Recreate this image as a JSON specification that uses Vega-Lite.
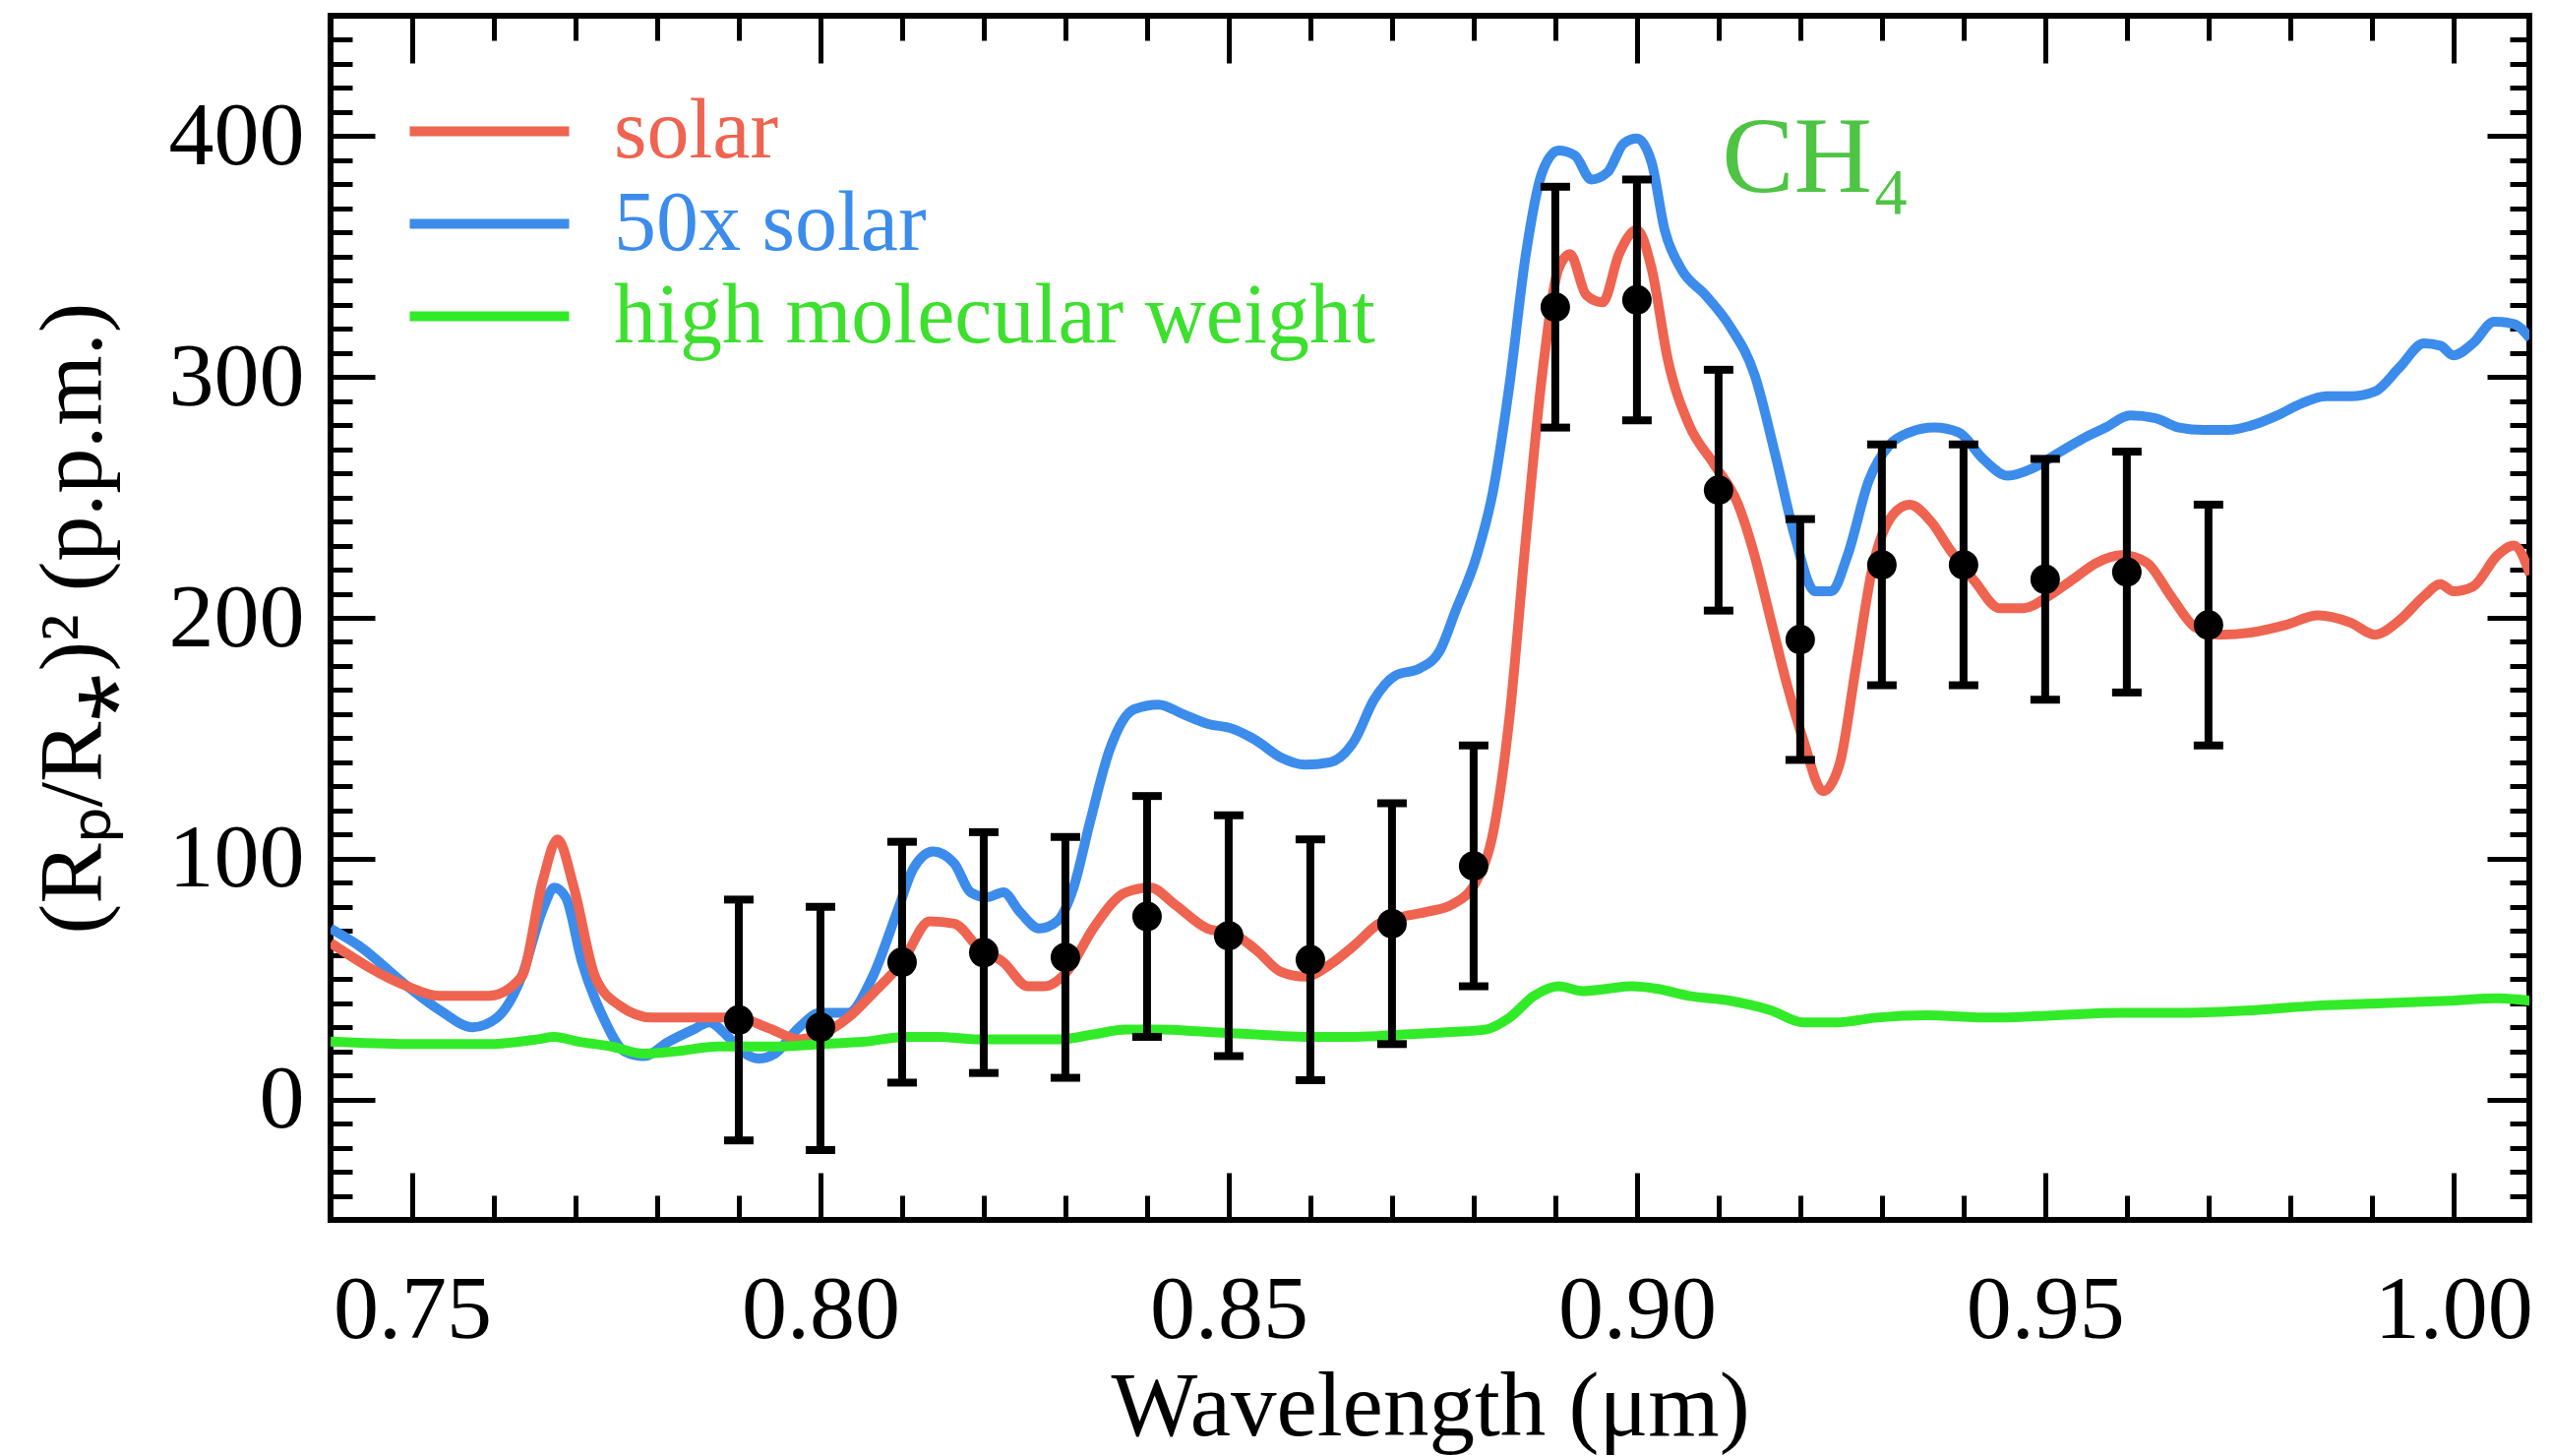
{
  "$schema": "https://vega.github.io/schema/vega-lite/v6.json",
  "width": 2235,
  "height": 1224,
  "autosize": {"type": "none"},
  "padding": {"left": 336, "top": 16, "right": 22, "bottom": 240},
  "background": "white",
  "config": {
    "view": {"stroke": "black", "strokeWidth": 6},
    "font": "Liberation Serif",
    "axis": {
      "grid": false,
      "domain": false,
      "tickColor": "black",
      "tickWidth": 5,
      "labelColor": "black",
      "titleColor": "black",
      "labelFont": "Liberation Serif",
      "titleFont": "Liberation Serif",
      "titleFontWeight": "normal",
      "labelFlush": false,
      "labelOverlap": false,
      "labelBound": false
    }
  },
  "datasets": {
    "curves": [
      {"series": "50x solar", "wavelength": 0.74, "value": 71},
      {"series": "50x solar", "wavelength": 0.7434, "value": 64},
      {"series": "50x solar", "wavelength": 0.7494, "value": 47},
      {"series": "50x solar", "wavelength": 0.7534, "value": 37},
      {"series": "50x solar", "wavelength": 0.7574, "value": 30},
      {"series": "50x solar", "wavelength": 0.7604, "value": 34},
      {"series": "50x solar", "wavelength": 0.7634, "value": 51},
      {"series": "50x solar", "wavelength": 0.766, "value": 79},
      {"series": "50x solar", "wavelength": 0.7674, "value": 88},
      {"series": "50x solar", "wavelength": 0.7688, "value": 84},
      {"series": "50x solar", "wavelength": 0.7708, "value": 57},
      {"series": "50x solar", "wavelength": 0.7734, "value": 34},
      {"series": "50x solar", "wavelength": 0.776, "value": 20},
      {"series": "50x solar", "wavelength": 0.7784, "value": 18},
      {"series": "50x solar", "wavelength": 0.7814, "value": 24},
      {"series": "50x solar", "wavelength": 0.7844, "value": 29},
      {"series": "50x solar", "wavelength": 0.7864, "value": 32},
      {"series": "50x solar", "wavelength": 0.7884, "value": 27},
      {"series": "50x solar", "wavelength": 0.7904, "value": 20},
      {"series": "50x solar", "wavelength": 0.7924, "value": 17},
      {"series": "50x solar", "wavelength": 0.7944, "value": 19},
      {"series": "50x solar", "wavelength": 0.7974, "value": 30},
      {"series": "50x solar", "wavelength": 0.8, "value": 36},
      {"series": "50x solar", "wavelength": 0.8034, "value": 36},
      {"series": "50x solar", "wavelength": 0.8064, "value": 51},
      {"series": "50x solar", "wavelength": 0.8094, "value": 78},
      {"series": "50x solar", "wavelength": 0.8114, "value": 96},
      {"series": "50x solar", "wavelength": 0.8138, "value": 103},
      {"series": "50x solar", "wavelength": 0.8164, "value": 98},
      {"series": "50x solar", "wavelength": 0.8184, "value": 86},
      {"series": "50x solar", "wavelength": 0.8204, "value": 84},
      {"series": "50x solar", "wavelength": 0.8224, "value": 86},
      {"series": "50x solar", "wavelength": 0.8244, "value": 78},
      {"series": "50x solar", "wavelength": 0.8268, "value": 71},
      {"series": "50x solar", "wavelength": 0.829, "value": 74},
      {"series": "50x solar", "wavelength": 0.831, "value": 88},
      {"series": "50x solar", "wavelength": 0.833, "value": 115},
      {"series": "50x solar", "wavelength": 0.8354, "value": 145},
      {"series": "50x solar", "wavelength": 0.8384, "value": 162},
      {"series": "50x solar", "wavelength": 0.8414, "value": 164},
      {"series": "50x solar", "wavelength": 0.8444, "value": 160},
      {"series": "50x solar", "wavelength": 0.8474, "value": 156},
      {"series": "50x solar", "wavelength": 0.8504, "value": 154},
      {"series": "50x solar", "wavelength": 0.8534, "value": 149},
      {"series": "50x solar", "wavelength": 0.8564, "value": 142},
      {"series": "50x solar", "wavelength": 0.8594, "value": 139},
      {"series": "50x solar", "wavelength": 0.8624, "value": 140},
      {"series": "50x solar", "wavelength": 0.8654, "value": 149},
      {"series": "50x solar", "wavelength": 0.8678, "value": 166},
      {"series": "50x solar", "wavelength": 0.8704, "value": 176},
      {"series": "50x solar", "wavelength": 0.8734, "value": 179},
      {"series": "50x solar", "wavelength": 0.8758, "value": 186},
      {"series": "50x solar", "wavelength": 0.8778, "value": 203},
      {"series": "50x solar", "wavelength": 0.8804, "value": 226},
      {"series": "50x solar", "wavelength": 0.8824, "value": 253},
      {"series": "50x solar", "wavelength": 0.8844, "value": 297},
      {"series": "50x solar", "wavelength": 0.8864, "value": 351},
      {"series": "50x solar", "wavelength": 0.8884, "value": 385},
      {"series": "50x solar", "wavelength": 0.8904, "value": 394},
      {"series": "50x solar", "wavelength": 0.8924, "value": 392},
      {"series": "50x solar", "wavelength": 0.8944, "value": 382},
      {"series": "50x solar", "wavelength": 0.8964, "value": 385},
      {"series": "50x solar", "wavelength": 0.8984, "value": 397},
      {"series": "50x solar", "wavelength": 0.9, "value": 399},
      {"series": "50x solar", "wavelength": 0.9018, "value": 389},
      {"series": "50x solar", "wavelength": 0.9034, "value": 361},
      {"series": "50x solar", "wavelength": 0.9054, "value": 345},
      {"series": "50x solar", "wavelength": 0.9084, "value": 334},
      {"series": "50x solar", "wavelength": 0.9114, "value": 321},
      {"series": "50x solar", "wavelength": 0.9144, "value": 301},
      {"series": "50x solar", "wavelength": 0.917, "value": 267},
      {"series": "50x solar", "wavelength": 0.9194, "value": 233},
      {"series": "50x solar", "wavelength": 0.9218, "value": 211},
      {"series": "50x solar", "wavelength": 0.9238, "value": 211},
      {"series": "50x solar", "wavelength": 0.9258, "value": 226},
      {"series": "50x solar", "wavelength": 0.9284, "value": 257},
      {"series": "50x solar", "wavelength": 0.931, "value": 272},
      {"series": "50x solar", "wavelength": 0.9334, "value": 277},
      {"series": "50x solar", "wavelength": 0.9364, "value": 279},
      {"series": "50x solar", "wavelength": 0.9394, "value": 277},
      {"series": "50x solar", "wavelength": 0.9424, "value": 266},
      {"series": "50x solar", "wavelength": 0.9454, "value": 259},
      {"series": "50x solar", "wavelength": 0.9484, "value": 262},
      {"series": "50x solar", "wavelength": 0.9514, "value": 268},
      {"series": "50x solar", "wavelength": 0.9544, "value": 274},
      {"series": "50x solar", "wavelength": 0.9574, "value": 279},
      {"series": "50x solar", "wavelength": 0.9604, "value": 284},
      {"series": "50x solar", "wavelength": 0.9634, "value": 283},
      {"series": "50x solar", "wavelength": 0.9664, "value": 279},
      {"series": "50x solar", "wavelength": 0.9694, "value": 278},
      {"series": "50x solar", "wavelength": 0.9724, "value": 278},
      {"series": "50x solar", "wavelength": 0.9754, "value": 280},
      {"series": "50x solar", "wavelength": 0.9784, "value": 284},
      {"series": "50x solar", "wavelength": 0.9814, "value": 289},
      {"series": "50x solar", "wavelength": 0.9844, "value": 292},
      {"series": "50x solar", "wavelength": 0.9874, "value": 292},
      {"series": "50x solar", "wavelength": 0.9904, "value": 294},
      {"series": "50x solar", "wavelength": 0.9934, "value": 304},
      {"series": "50x solar", "wavelength": 0.9964, "value": 314},
      {"series": "50x solar", "wavelength": 0.9984, "value": 313},
      {"series": "50x solar", "wavelength": 1.0, "value": 309},
      {"series": "50x solar", "wavelength": 1.0024, "value": 314},
      {"series": "50x solar", "wavelength": 1.005, "value": 323},
      {"series": "50x solar", "wavelength": 1.0074, "value": 322},
      {"series": "50x solar", "wavelength": 1.0094, "value": 316},
      {"series": "solar", "wavelength": 0.74, "value": 65},
      {"series": "solar", "wavelength": 0.7494, "value": 47},
      {"series": "solar", "wavelength": 0.7534, "value": 43},
      {"series": "solar", "wavelength": 0.7594, "value": 43},
      {"series": "solar", "wavelength": 0.7634, "value": 51},
      {"series": "solar", "wavelength": 0.766, "value": 91},
      {"series": "solar", "wavelength": 0.7678, "value": 108},
      {"series": "solar", "wavelength": 0.7698, "value": 88},
      {"series": "solar", "wavelength": 0.7724, "value": 51},
      {"series": "solar", "wavelength": 0.7754, "value": 39},
      {"series": "solar", "wavelength": 0.7794, "value": 34},
      {"series": "solar", "wavelength": 0.7854, "value": 34},
      {"series": "solar", "wavelength": 0.7898, "value": 34},
      {"series": "solar", "wavelength": 0.7934, "value": 30},
      {"series": "solar", "wavelength": 0.7974, "value": 25},
      {"series": "solar", "wavelength": 0.8, "value": 27},
      {"series": "solar", "wavelength": 0.8034, "value": 34},
      {"series": "solar", "wavelength": 0.8064, "value": 44},
      {"series": "solar", "wavelength": 0.81, "value": 57},
      {"series": "solar", "wavelength": 0.8134, "value": 74},
      {"series": "solar", "wavelength": 0.8164, "value": 73},
      {"series": "solar", "wavelength": 0.8194, "value": 63},
      {"series": "solar", "wavelength": 0.8224, "value": 57},
      {"series": "solar", "wavelength": 0.8254, "value": 47},
      {"series": "solar", "wavelength": 0.8274, "value": 47},
      {"series": "solar", "wavelength": 0.8304, "value": 54},
      {"series": "solar", "wavelength": 0.8334, "value": 71},
      {"series": "solar", "wavelength": 0.8374, "value": 86},
      {"series": "solar", "wavelength": 0.8404, "value": 88},
      {"series": "solar", "wavelength": 0.8434, "value": 81},
      {"series": "solar", "wavelength": 0.8474, "value": 71},
      {"series": "solar", "wavelength": 0.8504, "value": 69},
      {"series": "solar", "wavelength": 0.8534, "value": 62},
      {"series": "solar", "wavelength": 0.8564, "value": 53},
      {"series": "solar", "wavelength": 0.8594, "value": 51},
      {"series": "solar", "wavelength": 0.8624, "value": 56},
      {"series": "solar", "wavelength": 0.8654, "value": 64},
      {"series": "solar", "wavelength": 0.8684, "value": 73},
      {"series": "solar", "wavelength": 0.8714, "value": 76},
      {"series": "solar", "wavelength": 0.8744, "value": 78},
      {"series": "solar", "wavelength": 0.8774, "value": 81},
      {"series": "solar", "wavelength": 0.8804, "value": 91},
      {"series": "solar", "wavelength": 0.8824, "value": 111},
      {"series": "solar", "wavelength": 0.8844, "value": 159},
      {"series": "solar", "wavelength": 0.8864, "value": 233},
      {"series": "solar", "wavelength": 0.8884, "value": 301},
      {"series": "solar", "wavelength": 0.8904, "value": 345},
      {"series": "solar", "wavelength": 0.8918, "value": 351},
      {"series": "solar", "wavelength": 0.8938, "value": 334},
      {"series": "solar", "wavelength": 0.8958, "value": 331},
      {"series": "solar", "wavelength": 0.8978, "value": 351},
      {"series": "solar", "wavelength": 0.9, "value": 361},
      {"series": "solar", "wavelength": 0.9018, "value": 345},
      {"series": "solar", "wavelength": 0.9038, "value": 307},
      {"series": "solar", "wavelength": 0.9064, "value": 280},
      {"series": "solar", "wavelength": 0.9094, "value": 264},
      {"series": "solar", "wavelength": 0.9124, "value": 247},
      {"series": "solar", "wavelength": 0.9144, "value": 226},
      {"series": "solar", "wavelength": 0.9164, "value": 199},
      {"series": "solar", "wavelength": 0.9184, "value": 172},
      {"series": "solar", "wavelength": 0.9204, "value": 149},
      {"series": "solar", "wavelength": 0.9228, "value": 128},
      {"series": "solar", "wavelength": 0.9248, "value": 139},
      {"series": "solar", "wavelength": 0.9268, "value": 179},
      {"series": "solar", "wavelength": 0.9288, "value": 220},
      {"series": "solar", "wavelength": 0.9314, "value": 243},
      {"series": "solar", "wavelength": 0.9334, "value": 247},
      {"series": "solar", "wavelength": 0.936, "value": 240},
      {"series": "solar", "wavelength": 0.9384, "value": 228},
      {"series": "solar", "wavelength": 0.9414, "value": 215},
      {"series": "solar", "wavelength": 0.9444, "value": 204},
      {"series": "solar", "wavelength": 0.9474, "value": 204},
      {"series": "solar", "wavelength": 0.9504, "value": 209},
      {"series": "solar", "wavelength": 0.9534, "value": 216},
      {"series": "solar", "wavelength": 0.9564, "value": 223},
      {"series": "solar", "wavelength": 0.9594, "value": 226},
      {"series": "solar", "wavelength": 0.9624, "value": 223},
      {"series": "solar", "wavelength": 0.9654, "value": 209},
      {"series": "solar", "wavelength": 0.9684, "value": 196},
      {"series": "solar", "wavelength": 0.9714, "value": 193},
      {"series": "solar", "wavelength": 0.9754, "value": 194},
      {"series": "solar", "wavelength": 0.9794, "value": 197},
      {"series": "solar", "wavelength": 0.9834, "value": 201},
      {"series": "solar", "wavelength": 0.9874, "value": 198},
      {"series": "solar", "wavelength": 0.9904, "value": 193},
      {"series": "solar", "wavelength": 0.9934, "value": 199},
      {"series": "solar", "wavelength": 0.9964, "value": 209},
      {"series": "solar", "wavelength": 0.9984, "value": 214},
      {"series": "solar", "wavelength": 1.0, "value": 211},
      {"series": "solar", "wavelength": 1.0024, "value": 213},
      {"series": "solar", "wavelength": 1.0054, "value": 226},
      {"series": "solar", "wavelength": 1.0074, "value": 230},
      {"series": "solar", "wavelength": 1.0094, "value": 218},
      {"series": "high molecular weight", "wavelength": 0.74, "value": 24},
      {"series": "high molecular weight", "wavelength": 0.7494, "value": 23},
      {"series": "high molecular weight", "wavelength": 0.7594, "value": 23},
      {"series": "high molecular weight", "wavelength": 0.7654, "value": 25},
      {"series": "high molecular weight", "wavelength": 0.7674, "value": 26},
      {"series": "high molecular weight", "wavelength": 0.7704, "value": 24},
      {"series": "high molecular weight", "wavelength": 0.7744, "value": 22},
      {"series": "high molecular weight", "wavelength": 0.7784, "value": 19},
      {"series": "high molecular weight", "wavelength": 0.7824, "value": 20},
      {"series": "high molecular weight", "wavelength": 0.7874, "value": 22},
      {"series": "high molecular weight", "wavelength": 0.7914, "value": 22},
      {"series": "high molecular weight", "wavelength": 0.7954, "value": 22},
      {"series": "high molecular weight", "wavelength": 0.8, "value": 23},
      {"series": "high molecular weight", "wavelength": 0.8054, "value": 24},
      {"series": "high molecular weight", "wavelength": 0.8104, "value": 26},
      {"series": "high molecular weight", "wavelength": 0.8144, "value": 26},
      {"series": "high molecular weight", "wavelength": 0.8194, "value": 25},
      {"series": "high molecular weight", "wavelength": 0.8244, "value": 25},
      {"series": "high molecular weight", "wavelength": 0.8294, "value": 25},
      {"series": "high molecular weight", "wavelength": 0.8334, "value": 27},
      {"series": "high molecular weight", "wavelength": 0.8374, "value": 29},
      {"series": "high molecular weight", "wavelength": 0.8414, "value": 29},
      {"series": "high molecular weight", "wavelength": 0.8474, "value": 28},
      {"series": "high molecular weight", "wavelength": 0.8534, "value": 27},
      {"series": "high molecular weight", "wavelength": 0.8594, "value": 26},
      {"series": "high molecular weight", "wavelength": 0.8654, "value": 26},
      {"series": "high molecular weight", "wavelength": 0.8714, "value": 27},
      {"series": "high molecular weight", "wavelength": 0.8774, "value": 28},
      {"series": "high molecular weight", "wavelength": 0.8814, "value": 29},
      {"series": "high molecular weight", "wavelength": 0.8844, "value": 34},
      {"series": "high molecular weight", "wavelength": 0.8874, "value": 43},
      {"series": "high molecular weight", "wavelength": 0.8904, "value": 47},
      {"series": "high molecular weight", "wavelength": 0.8934, "value": 45},
      {"series": "high molecular weight", "wavelength": 0.8964, "value": 46},
      {"series": "high molecular weight", "wavelength": 0.8994, "value": 47},
      {"series": "high molecular weight", "wavelength": 0.9024, "value": 46},
      {"series": "high molecular weight", "wavelength": 0.9064, "value": 43},
      {"series": "high molecular weight", "wavelength": 0.9114, "value": 41},
      {"series": "high molecular weight", "wavelength": 0.9164, "value": 37},
      {"series": "high molecular weight", "wavelength": 0.9204, "value": 32},
      {"series": "high molecular weight", "wavelength": 0.9244, "value": 32},
      {"series": "high molecular weight", "wavelength": 0.9294, "value": 34},
      {"series": "high molecular weight", "wavelength": 0.9354, "value": 35},
      {"series": "high molecular weight", "wavelength": 0.9434, "value": 34},
      {"series": "high molecular weight", "wavelength": 0.9514, "value": 35},
      {"series": "high molecular weight", "wavelength": 0.9594, "value": 36},
      {"series": "high molecular weight", "wavelength": 0.9674, "value": 36},
      {"series": "high molecular weight", "wavelength": 0.9754, "value": 37},
      {"series": "high molecular weight", "wavelength": 0.9834, "value": 39},
      {"series": "high molecular weight", "wavelength": 0.9914, "value": 40},
      {"series": "high molecular weight", "wavelength": 0.9994, "value": 41},
      {"series": "high molecular weight", "wavelength": 1.0054, "value": 42},
      {"series": "high molecular weight", "wavelength": 1.0094, "value": 41}
    ],
    "obs": [
      {"wavelength": 0.79, "value": 33, "lo": -17, "hi": 83},
      {"wavelength": 0.80, "value": 30, "lo": -21, "hi": 80},
      {"wavelength": 0.81, "value": 57, "lo": 7, "hi": 107},
      {"wavelength": 0.82, "value": 61, "lo": 11, "hi": 111},
      {"wavelength": 0.83, "value": 59, "lo": 9, "hi": 109},
      {"wavelength": 0.84, "value": 76, "lo": 26, "hi": 126},
      {"wavelength": 0.85, "value": 68, "lo": 18, "hi": 118},
      {"wavelength": 0.86, "value": 58, "lo": 8, "hi": 108},
      {"wavelength": 0.87, "value": 73, "lo": 23, "hi": 123},
      {"wavelength": 0.88, "value": 97, "lo": 47, "hi": 147},
      {"wavelength": 0.89, "value": 329, "lo": 279, "hi": 379},
      {"wavelength": 0.90, "value": 332, "lo": 282, "hi": 382},
      {"wavelength": 0.91, "value": 253, "lo": 203, "hi": 303},
      {"wavelength": 0.92, "value": 191, "lo": 141, "hi": 241},
      {"wavelength": 0.93, "value": 222, "lo": 172, "hi": 272},
      {"wavelength": 0.94, "value": 222, "lo": 172, "hi": 272},
      {"wavelength": 0.95, "value": 216, "lo": 166, "hi": 266},
      {"wavelength": 0.96, "value": 219, "lo": 169, "hi": 269},
      {"wavelength": 0.97, "value": 197, "lo": 147, "hi": 247}
    ],
    "notes": [
      {"label": "CH₄"}
    ]
  },
  "layer": [
    {
      "data": {"name": "curves"},
      "mark": {"type": "line", "strokeWidth": 10, "interpolate": "monotone", "clip": true},
      "encoding": {
        "x": {
          "field": "wavelength", "type": "quantitative",
          "scale": {"domain": [0.74, 1.0093], "nice": false, "zero": false},
          "axis": {
            "orient": "bottom", "values": [0.75, 0.8, 0.85, 0.9, 0.95, 1.0], "format": ".2f",
            "ticks": false, "labelFontSize": 92, "labelPadding": 46,
            "title": "Wavelength (μm)", "titleFontSize": 93, "titlePadding": 8
          }
        },
        "y": {
          "field": "value", "type": "quantitative",
          "scale": {"domain": [-50, 450], "nice": false, "zero": false},
          "axis": {
            "orient": "left", "values": [0, 100, 200, 300, 400], "format": "d",
            "ticks": false, "labelFontSize": 92, "labelPadding": 27,
            "title": "(Rₚ/R⁎)² (p.p.m.)", "titleFontSize": 92, "titlePadding": 50
          }
        },
        "color": {
          "field": "series", "type": "nominal",
          "scale": {"domain": ["solar", "50x solar", "high molecular weight"], "range": ["#EE6450", "#3C8CEB", "#32EB28"]},
          "legend": {
            "orient": "none", "legendX": 116, "legendY": 72, "title": null, "padding": 0,
            "symbolType": "M -2 0 L 2 0", "symbolSize": 6561, "symbolStrokeWidth": 10,
            "labelFont": "Liberation Serif", "labelFontSize": 86, "labelOffset": 81, "labelLimit": 3000,
            "rowPadding": 5,
            "labelColor": {"expr": "datum.value === 'solar' ? '#EE6450' : (datum.value === '50x solar' ? '#3C8CEB' : '#3DE02E')"}
          }
        }
      }
    },
    {
      "data": {"name": "obs"},
      "mark": {"type": "rule", "strokeWidth": 8, "color": "black"},
      "encoding": {
        "x": {
          "field": "wavelength", "type": "quantitative",
          "scale": {"domain": [0.74, 1.0093], "nice": false, "zero": false},
          "axis": {"orient": "bottom", "values": [0.75, 0.8, 0.85, 0.9, 0.95, 1.0], "labels": false, "tickSize": -48, "title": null}
        },
        "y": {
          "field": "lo", "type": "quantitative",
          "scale": {"domain": [-50, 450], "nice": false, "zero": false},
          "axis": {"orient": "left", "values": [0, 100, 200, 300, 400], "labels": false, "tickSize": -45, "title": null}
        },
        "y2": {"field": "hi"}
      }
    },
    {
      "data": {"name": "obs"},
      "mark": {"type": "tick", "orient": "horizontal", "size": 30, "thickness": 8, "color": "black", "opacity": 1},
      "encoding": {
        "x": {
          "field": "wavelength", "type": "quantitative",
          "scale": {"domain": [0.74, 1.0093], "nice": false, "zero": false},
          "axis": {"orient": "bottom", "values": [0.76, 0.77, 0.78, 0.79, 0.81, 0.82, 0.83, 0.84, 0.86, 0.87, 0.88, 0.89, 0.91, 0.92, 0.93, 0.94, 0.96, 0.97, 0.98, 0.99], "labels": false, "tickSize": -25, "title": null}
        },
        "y": {
          "field": "lo", "type": "quantitative",
          "scale": {"domain": [-50, 450], "nice": false, "zero": false},
          "axis": {"orient": "left", "values": [-40, -30, -20, -10, 10, 20, 30, 40, 50, 60, 70, 80, 90, 110, 120, 130, 140, 150, 160, 170, 180, 190, 210, 220, 230, 240, 250, 260, 270, 280, 290, 310, 320, 330, 340, 350, 360, 370, 380, 390, 410, 420, 430, 440], "labels": false, "tickSize": -22, "title": null}
        }
      }
    },
    {
      "data": {"name": "obs"},
      "mark": {"type": "tick", "orient": "horizontal", "size": 30, "thickness": 8, "color": "black", "opacity": 1},
      "encoding": {
        "x": {
          "field": "wavelength", "type": "quantitative",
          "scale": {"domain": [0.74, 1.0093], "nice": false, "zero": false},
          "axis": {"orient": "top", "values": [0.75, 0.8, 0.85, 0.9, 0.95, 1.0], "labels": false, "tickSize": -48, "title": null}
        },
        "y": {
          "field": "hi", "type": "quantitative",
          "scale": {"domain": [-50, 450], "nice": false, "zero": false},
          "axis": {"orient": "right", "values": [0, 100, 200, 300, 400], "labels": false, "tickSize": -43, "title": null}
        }
      }
    },
    {
      "data": {"name": "obs"},
      "mark": {"type": "circle", "size": 900, "color": "black", "opacity": 1},
      "encoding": {
        "x": {
          "field": "wavelength", "type": "quantitative",
          "scale": {"domain": [0.74, 1.0093], "nice": false, "zero": false},
          "axis": {"orient": "top", "values": [0.76, 0.77, 0.78, 0.79, 0.81, 0.82, 0.83, 0.84, 0.86, 0.87, 0.88, 0.89, 0.91, 0.92, 0.93, 0.94, 0.96, 0.97, 0.98, 0.99], "labels": false, "tickSize": -25, "title": null}
        },
        "y": {
          "field": "value", "type": "quantitative",
          "scale": {"domain": [-50, 450], "nice": false, "zero": false},
          "axis": {"orient": "right", "values": [-40, -30, -20, -10, 10, 20, 30, 40, 50, 60, 70, 80, 90, 110, 120, 130, 140, 150, 160, 170, 180, 190, 210, 220, 230, 240, 250, 260, 270, 280, 290, 310, 320, 330, 340, 350, 360, 370, 380, 390, 410, 420, 430, 440], "labels": false, "tickSize": -20, "title": null}
        }
      }
    },
    {
      "data": {"name": "notes"},
      "mark": {"type": "text", "font": "Liberation Serif", "fontSize": 110, "color": "#4EC444", "align": "left", "baseline": "alphabetic"},
      "encoding": {
        "x": {"datum": 0.9104, "type": "quantitative", "scale": {"domain": [0.74, 1.0093], "nice": false, "zero": false}, "axis": null},
        "y": {"datum": 377, "type": "quantitative", "scale": {"domain": [-50, 450], "nice": false, "zero": false}, "axis": null},
        "text": {"field": "label"}
      }
    }
  ],
  "resolve": {"axis": {"x": "independent", "y": "independent"}}
}
